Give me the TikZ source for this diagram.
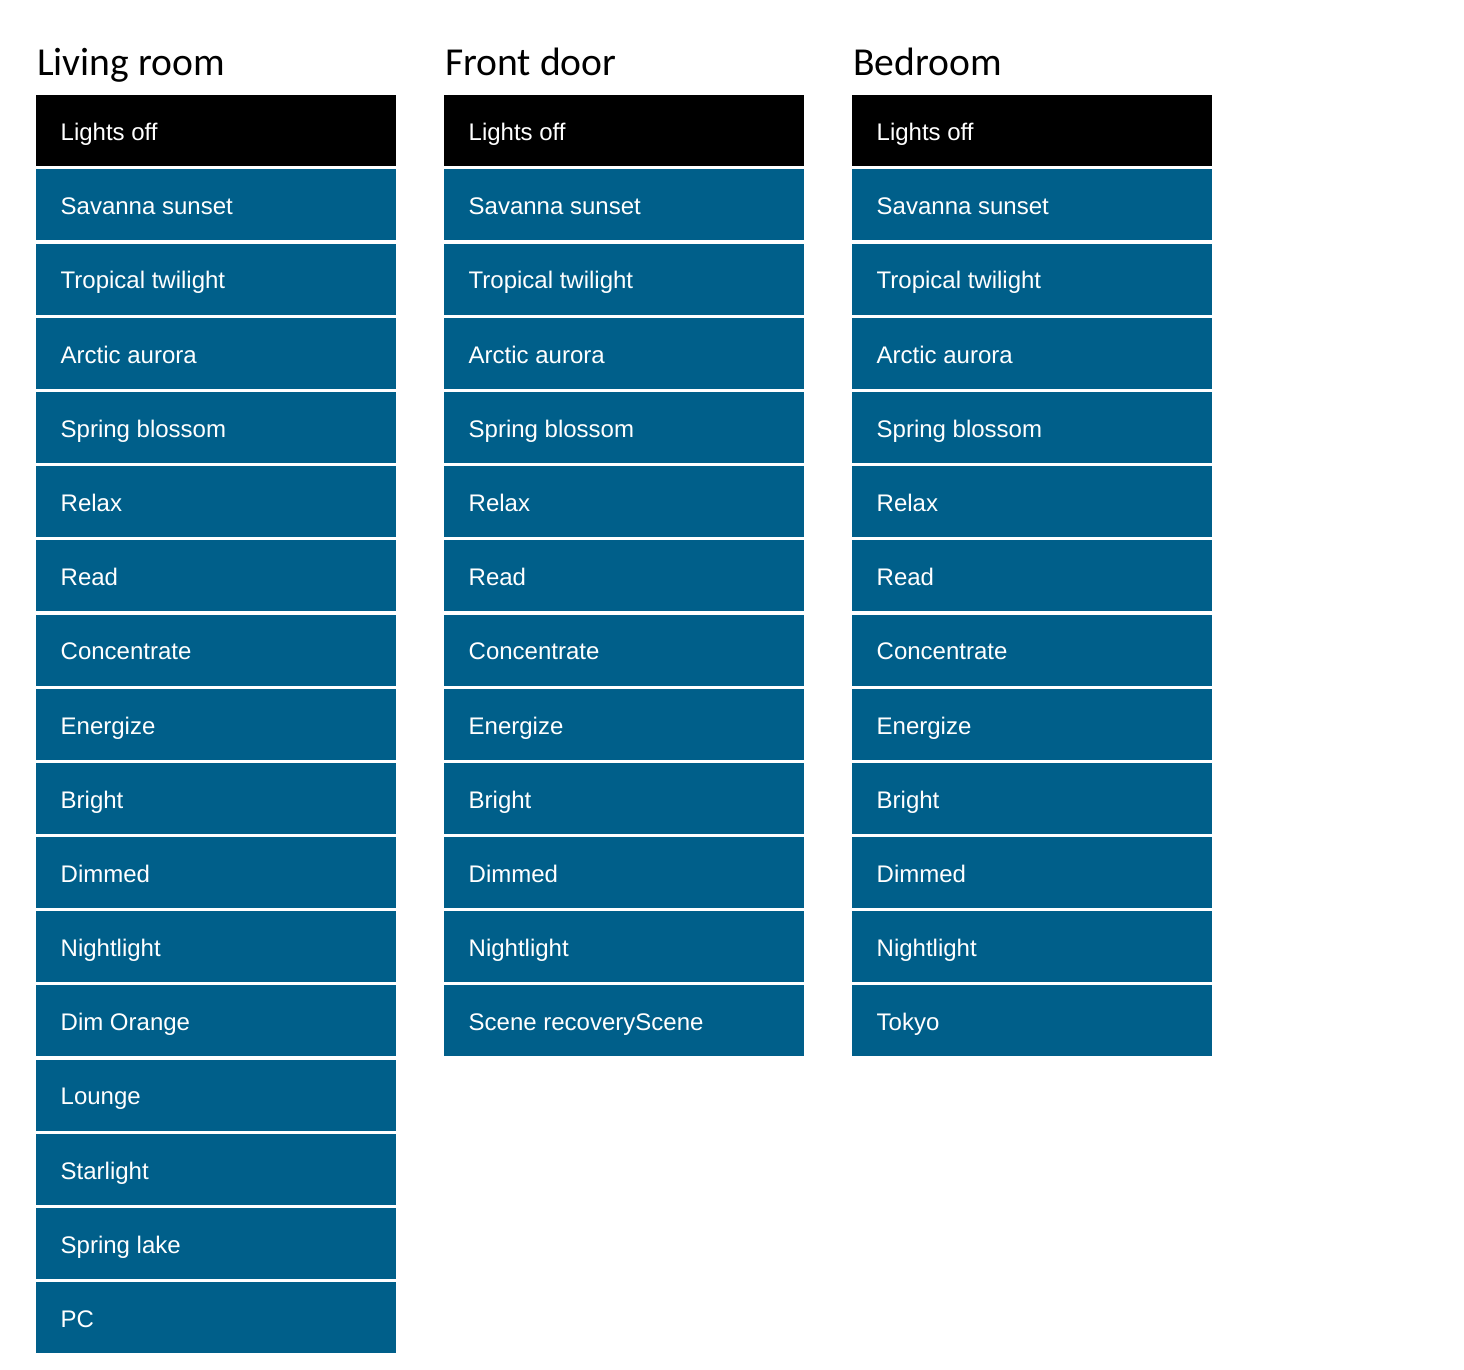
\documentclass[tikz,border=0pt]{standalone}
\usepackage{fontspec}
\setmainfont{Liberation Sans}
\newfontfamily\titlefont{Carlito}
\definecolor{tile}{HTML}{005F8A}
\begin{document}
\begin{tikzpicture}[x=1pt,y=-1pt,
  tilebox/.style={fill=tile,draw=none,minimum width=360pt,minimum height=71pt,inner sep=0pt,anchor=north west},
  offbox/.style={tilebox,fill=black},
  tilelabel/.style={text=white,font=\fontsize{24pt}{28pt}\selectfont,anchor=base west,inner sep=0pt},
  header/.style={font=\titlefont\fontsize{39.6pt}{46pt}\selectfont,anchor=base west,inner sep=0pt}]
\useasboundingbox[fill=white] (0,0) rectangle (1464,1369);
\foreach \col/\cx/\title/\items in {
  lr/36/{Living room}/{Savanna sunset,Tropical twilight,Arctic aurora,Spring blossom,Relax,Read,Concentrate,Energize,Bright,Dimmed,Nightlight,Dim Orange,Lounge,Starlight,Spring lake,PC},
  fd/444/{Front door}/{Savanna sunset,Tropical twilight,Arctic aurora,Spring blossom,Relax,Read,Concentrate,Energize,Bright,Dimmed,Nightlight,Scene recoveryScene},
  br/852/{Bedroom}/{Savanna sunset,Tropical twilight,Arctic aurora,Spring blossom,Relax,Read,Concentrate,Energize,Bright,Dimmed,Nightlight,Tokyo}}{
  \node[header] (\col-title) at (\cx+1,75) {\title};
  \node[offbox] (\col-0) at (\cx,95) {};
  \node[tilelabel] (\col-0-t) at (\cx+24.5,140.5) {Lights off};
  \foreach \it [count=\i] in \items {
    \pgfmathsetmacro{\ty}{95+74.19*\i}
    \node[tilebox] (\col-\i) at (\cx,\ty) {};
    \node[tilelabel] (\col-\i-t) at (\cx+24.5,\ty+45.5) {\it};
  }
}
\end{tikzpicture}
\end{document}
